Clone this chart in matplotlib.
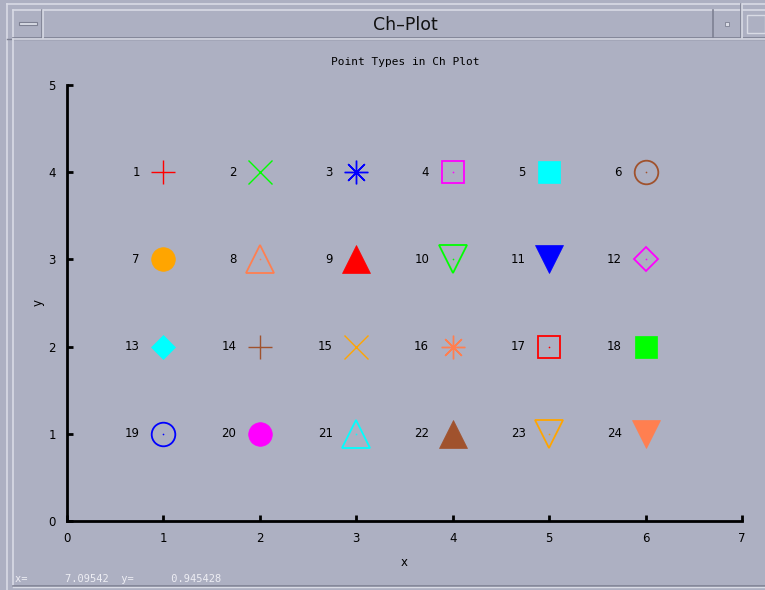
import matplotlib
matplotlib.use("Agg")
import matplotlib.pyplot as plt
from matplotlib.patches import Rectangle

# data
xs = [1, 2, 3, 4, 5, 6] * 4
ys = [4] * 6 + [3] * 6 + [2] * 6 + [1] * 6
labels = [str(i) for i in range(1, 25)]
colors = ['red', 'lime', 'blue', 'magenta', 'cyan', 'sienna', 'orange', 'coral']
# (marker, filled)
marker_types = [('+', True), ('x', True), ((8, 2, 0), True), ('s', False), ('s', True),
                ('o', False), ('o', True), ('^', False), ('^', True), ('v', False),
                ('v', True), ('D', False), ('D', True)]
sizes = {'+': 17, 'x': 17, 's': 16, 'o': 17, '^': 20, 'v': 20, 'D': 12}

bg = '#adb0c2'
light = '#d9dbe5'
dark = '#7d8092'

fig = plt.figure(figsize=(7.65, 5.9), dpi=100, facecolor=bg)

# window chrome (pixel coords)
chrome = fig.add_axes([0, 0, 1, 1], zorder=-1)
chrome.set_xlim(0, 765)
chrome.set_ylim(590, 0)
chrome.axis('off')
def box(x0, y0, x1, y1, hi=light, lo=dark, lw=1.2):
    chrome.plot([x0, x1], [y0, y0], color=hi, lw=lw)
    chrome.plot([x0, x0], [y0, y1], color=hi, lw=lw)
    chrome.plot([x0, x1], [y1, y1], color=lo, lw=lw)
    chrome.plot([x1, x1], [y0, y1], color=lo, lw=lw)
box(7, 4, 770, 600)
box(13, 10, 770, 38)
chrome.plot([42, 42], [10, 38], color=dark, lw=1.2)
chrome.plot([43, 43], [10, 38], color=light, lw=1.2)
chrome.plot([713, 713], [10, 38], color=dark, lw=1.2)
chrome.plot([741, 741], [4, 38], color=dark, lw=1.2)
chrome.plot([742, 742], [4, 38], color=light, lw=1.2)
chrome.plot([7, 770], [39, 39], color=dark, lw=1.0)
box(13, 39, 770, 586)
chrome.add_patch(Rectangle((19, 22), 18, 3, facecolor=light, edgecolor=dark, lw=0.8))
chrome.add_patch(Rectangle((725, 22), 4, 4, facecolor=light, edgecolor=dark, lw=0.6))
chrome.add_patch(Rectangle((747, 15), 18, 18, facecolor=bg, edgecolor=light, lw=1.0))
chrome.text(405, 25, 'Ch\u2013Plot', ha='center', va='center', fontsize=12.5, color='#111111')
chrome.text(15, 579, 'x=      7.09542  y=      0.945428', ha='left', va='center',
            fontsize=7.5, color='#eeeef4', family='DejaVu Sans Mono')
chrome.plot([13, 770], [587, 587], color=light, lw=1.0)

ax = fig.add_axes([67 / 765, 1 - 521 / 590, 675 / 765, 436 / 590])
ax.set_facecolor('none')
ax.set_xlim(0, 7)
ax.set_ylim(0, 5)
for s in ['top', 'right']:
    ax.spines[s].set_visible(False)
for s in ['left', 'bottom']:
    ax.spines[s].set_linewidth(2.0)
    ax.spines[s].set_color('black')
ax.tick_params(direction='in', length=4, width=2, labelsize=8.5, colors='black', pad=8)
ax.set_xticks(range(0, 8))
ax.set_yticks(range(0, 6))
ax.set_xlabel('x', fontsize=8.5, labelpad=8)
ax.set_ylabel('y', fontsize=8.5, labelpad=3)
fig.text(405 / 765, 1 - 62 / 590, 'Point Types in Ch Plot', ha='center', va='center',
         fontsize=8, family='DejaVu Sans Mono')

for i, (x, y, lab) in enumerate(zip(xs, ys, labels)):
    c = colors[i % len(colors)]
    m, filled = marker_types[i % len(marker_types)]
    key = m if isinstance(m, str) else '+'
    ms = sizes[key]
    if m in ('+', 'x') or not isinstance(m, str):
        ax.plot(x, y, marker=m, color=c, ms=ms, mew=1.0, clip_on=False)
        if not isinstance(m, str):
            ax.plot(x, y, marker='o', color=c, ms=3, mew=0)
    elif filled:
        ax.plot(x, y, marker=m, color=c, ms=ms, mew=0.5, mec=c, clip_on=False)
    else:
        ax.plot(x, y, marker=m, ms=ms, mfc='none', mec=c, mew=1.3, clip_on=False)
        ax.plot(x, y, marker='o', color=c, ms=1.2, mew=0)
    ax.annotate(lab, (x, y), xytext=(-17, 0), textcoords='offset points',
                ha='right', va='center', fontsize=8.5)

fig.savefig('out.png', dpi=100, facecolor=bg)
